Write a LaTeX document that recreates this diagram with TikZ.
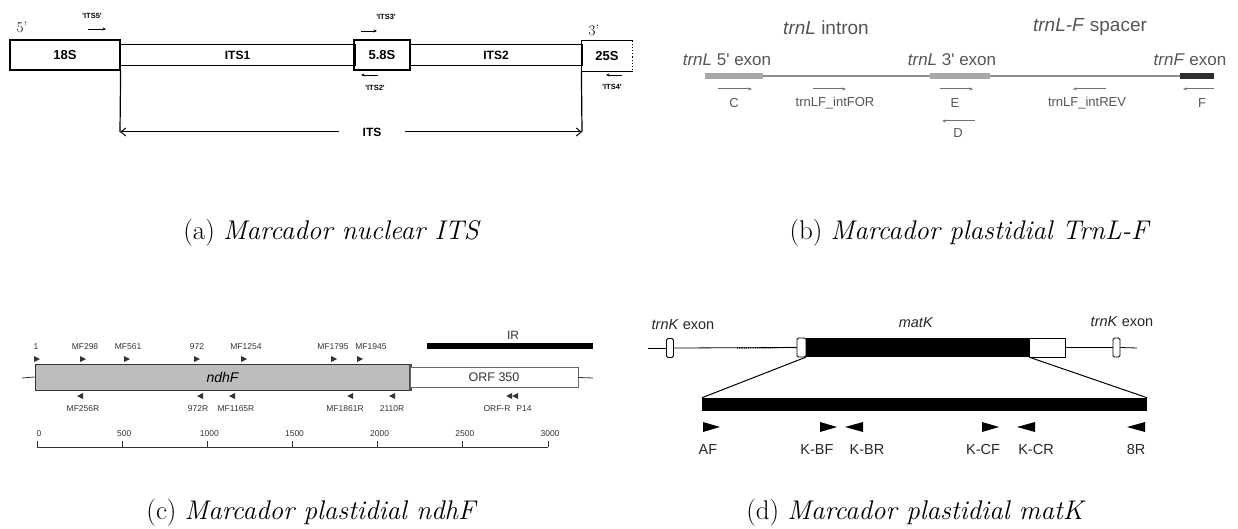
\documentclass[tikz,border=0pt]{standalone}
\usepackage{fontspec}
\newfontfamily\arialf{Liberation Sans}
\usetikzlibrary{positioning,arrows.meta,calc}

\definecolor{txtgray}{HTML}{555555}
\definecolor{linegray}{HTML}{8C8C8C}
\definecolor{exongray}{HTML}{A8A8A8}
\definecolor{exondark}{HTML}{2E2E2E}
\definecolor{boxgray}{HTML}{BDBDBD}
\definecolor{tdark}{HTML}{333333}

\begin{document}
\begin{tikzpicture}[
    x=1pt, y=-1pt,
    gene/.style={draw, line width=1.2pt, minimum height=30pt, inner sep=0pt, font=\arialf\bfseries\fontsize{13}{15}\selectfont},
    spacer/.style={draw, line width=0.9pt, minimum height=21pt, inner sep=0pt, font=\arialf\bfseries\fontsize{12}{14}\selectfont},
    endlab/.style={font=\fontsize{15}{17}\selectfont, inner sep=0pt},
    itslab/.style={font=\arialf\bfseries\fontsize{7.5}{9}\selectfont, inner sep=0pt},
    itsarr/.style={-{Stealth[length=3.5pt,width=3pt]}, line width=0.8pt},
    dimarr/.style={-{Straight Barb[length=5pt,width=8pt]}, line width=1pt},
    bhead/.style={font=\arialf\fontsize{19}{22}\selectfont, text=txtgray, inner sep=0pt},
    exlab/.style={font=\arialf\fontsize{17}{20}\selectfont, text=txtgray, inner sep=0pt},
    exon/.style={fill=exongray, minimum height=6pt, inner sep=0pt},
    plab/.style={font=\arialf\fontsize{13}{15}\selectfont, text=txtgray, inner sep=0pt},
    parr/.style={-{Stealth[length=4pt,width=3pt]}, line width=1pt, draw=linegray!80!black},
    clab/.style={font=\arialf\fontsize{8.5}{10}\selectfont, text=tdark, inner sep=0pt},
    dlab/.style={font=\arialf\fontsize{14.5}{17}\selectfont, text=black!85, inner sep=0pt},
    kbox/.style={fill=black, inner sep=0pt},
    wbox/.style={draw, fill=white, line width=0.8pt, inner sep=0pt, minimum height=19pt},
    capt/.style={font=\fontsize{27}{32}\selectfont, inner sep=0pt}
]
\useasboundingbox (0,0) rectangle (1238,529);

% (a) nuclear ITS region
\node[endlab] (e5) at (22,27) {5'};
\node[endlab] (e3) at (594,30) {3'};
\node[gene, minimum width=110pt] (s18) at (65,55) {18S};
\node[spacer, minimum width=235pt] (its1) at (237.5,55) {ITS1};
\node[gene, minimum width=56pt] (s58) at (382,55) {5.8S};
\node[spacer, minimum width=172pt] (its2) at (496,55) {ITS2};
\node[gene, draw=none, minimum width=50pt] (s25) at (607,56) {25S};
\draw[line width=1.2pt] (s25.north east) -- (s25.north west) -- (s25.south west) -- (s25.south east);
\draw[line width=1.2pt, dotted] (s25.north east) -- (s25.south east);

% primers on ITS
\node[itslab] (i5) at (92,16) {'ITS5'};
\draw[itsarr] ([xshift=-4pt,yshift=-13pt]i5.center) -- ++(18,0);
\node[itslab] (i3) at (386,17) {'ITS3'};
\draw[itsarr] ([xshift=-25pt,yshift=-14pt]i3.center) -- ++(16,0);
\node[itslab] (i2) at (375,88) {'ITS2'};
\draw[itsarr] ([xshift=3pt,yshift=13pt]i2.center) -- ++(-17,0);
\node[itslab] (i4) at (612,87) {'ITS4'};
\draw[itsarr] ([xshift=10pt,yshift=12pt]i4.center) -- ++(-16,0);

% ITS span
\coordinate (itsL) at (120,132);
\coordinate (itsR) at (582,132);
\draw[line width=1.2pt] (s18.south east) -- (itsL);
\draw[line width=1.2pt] (s25.south west) -- (itsR);
\node[spacer, draw=none, inner xsep=23pt] (its) at (372,132) {ITS};
\draw[dimarr] (its.west) -- (itsL);
\draw[dimarr] (its.east) -- (itsR);

% (b) trnL-F region
\node[bhead] (hint) at (826,28) {\textit{trnL} intron};
\node[bhead] (hspa) at (1090,27) {\textit{trnL-F} spacer};
\coordinate (b0) at (705,76);
\coordinate (b1) at (1214,76);
\draw[line width=1.5pt, linegray] (b0) -- (b1);
\node[exon, minimum width=58pt] (ex5) at (734,76) {};
\node[exon, minimum width=60pt] (ex3) at (960,76) {};
\node[exon, fill=exondark, minimum width=34pt] (exf) at (1197,76) {};
\node[exlab] (l5) at (727,60) {\textit{trnL} 5' exon};
\node[exlab] (l3) at (952,60) {\textit{trnL} 3' exon};
\node[exlab] (lf) at (1190,60) {\textit{trnF} exon};

% primers on trnL-F
\node[plab] (pC) at (734,103) {C};
\draw[parr] ([xshift=-16pt,yshift=14pt]pC.center) -- ++(34,0);
\node[plab] (pFOR) at (835,103) {trnLF\_intFOR};
\draw[parr] ([xshift=-22pt,yshift=14pt]pFOR.center) -- ++(33,0);
\node[plab] (pE) at (955,103) {E};
\draw[parr] ([xshift=-15pt,yshift=14pt]pE.center) -- ++(33,0);
\node[plab] (pD) at (958,133) {D};
\draw[parr] ([xshift=17pt,yshift=12pt]pD.center) -- ++(-33,0);
\node[plab] (pREV) at (1087,103) {trnLF\_intREV};
\draw[parr] ([xshift=19pt,yshift=14pt]pREV.center) -- ++(-33,0);
\node[plab] (pF) at (1202,103) {F};
\draw[parr] ([xshift=12pt,yshift=14pt]pF.center) -- ++(-31,0);

% (c) ndhF region
\node[draw=tdark, fill=boxgray, line width=1pt, minimum width=375pt, minimum height=26pt, inner sep=0pt,
      font=\arialf\itshape\fontsize{14}{16}\selectfont] (ndh) at (222.5,377) {ndhF};
\draw[line width=2.5pt, black!70] (ndh.north east) -- (ndh.south east);
\node[draw=black!60, fill=white, line width=0.9pt, minimum width=168pt, minimum height=20pt, inner sep=0pt,
      font=\arialf\fontsize{12.5}{15}\selectfont, text=tdark] (orf) at (494,377.5) {ORF 350};
\coordinate (c0) at (22,378);
\coordinate (c1) at (593,378);
\draw[line width=0.8pt, tdark] (c0) -- (ndh.west);
\draw[line width=0.8pt, tdark] (orf.east) -- (c1);
\coordinate (ir0) at (427,346);
\coordinate (ir1) at (593,346);
\draw[line width=6pt] (ir0) -- (ir1);
\node[clab, font=\arialf\fontsize{12}{14}\selectfont] (irl) at (513,335) {IR};

% forward primers
\foreach \x/\t in {36/1, 85/MF298, 128/MF561, 197/972, 246/MF1254, 333/MF1795, 371/MF1945}
  \node[clab] (ct\x) at (\x,347) {\t};
\foreach \x in {37,83,127,197,244,334,360}
  \fill[tdark] ({\x-3},356) -- ({\x+3},359) -- ({\x-3},362) -- cycle;
% reverse primers
\foreach \x/\t in {83/MF256R, 198/972R, 236/MF1165R, 345/MF1861R, 392/2110R, 497/ORF-R, 524/P14}
  \node[clab] (cb\x) at (\x,409) {\t};
\foreach \x in {80,200,232,350,392,509,515}
  \fill[tdark] ({\x+3},393) -- ({\x-3},396) -- ({\x+3},399) -- cycle;

% scale
\coordinate (ax0) at (37,447);
\coordinate (ax1) at (548,447);
\draw[line width=0.8pt, tdark] (ax0) -- (ax1);
\foreach \v [evaluate=\v as \xx using 37+0.17033*\v] in {0,500,...,3000} {
  \draw[line width=0.8pt, tdark] (\xx,447) -- ++(0,-6);
  \node[clab] (sc\v) at (\xx+2,434) {\v};
}

% (d) matK region
\node[dlab] (tkl) at (683,325) {\textit{trnK} exon};
\node[dlab] (tkr) at (1122,322) {\textit{trnK} exon};
\node[dlab] (mkl) at (916,323) {\textit{matK}};
\coordinate (d0) at (648,348);
\coordinate (d1) at (1137,348);
\node[wbox, rounded corners=1.5pt, minimum width=7pt] (xl) at (670,348) {};
\node[wbox, rounded corners=1.5pt, minimum width=9pt] (w1) at (801.5,347.5) {};
\node[kbox, minimum width=223pt, minimum height=19pt] (mk) at (917.5,347.5) {};
\node[wbox, minimum width=36pt] (w2) at (1047,347.5) {};
\node[wbox, rounded corners=1.5pt, minimum width=7pt] (xr) at (1116.5,347.5) {};
\draw[line width=0.8pt] (d0) -- (xl.west);
\draw[line width=0.8pt] (xl.east) -- (w1.west);
\draw[line width=1.2pt, densely dotted] (737,348) -- (w1.west);
\draw[line width=0.8pt] (w2.east) -- (xr.west);
\draw[line width=0.8pt] (xr.east) -- (d1);
\node[kbox, minimum width=445pt, minimum height=13pt] (kbar) at (924.5,404.5) {};
\draw[line width=1pt] (mk.south west) -- (kbar.north west);
\draw[line width=1pt] (mk.south east) -- (kbar.north east);

% primers on matK
\foreach \x in {703,820,982}
  \fill ({\x},422) -- ({\x+17},427) -- ({\x},432) -- cycle;
\foreach \x in {863,1035,1145}
  \fill ({\x},422) -- ({\x-18},427) -- ({\x},432) -- cycle;
\foreach \x/\t in {708/AF, 817/K-BF, 867/K-BR, 983/K-CF, 1036/K-CR, 1136/8R}
  \node[dlab] (dl\x) at (\x,450) {\t};

% captions
\node[capt] (ca) at (332,233) {(a) \textit{Marcador nuclear ITS}};
\node[capt] (cb) at (970,233) {(b) \textit{Marcador plastidial TrnL-F}};
\node[capt] (cc) at (312,513) {(c) \textit{Marcador plastidial ndhF}};
\node[capt] (cd) at (916,513) {(d) \textit{Marcador plastidial matK}};

\end{tikzpicture}
\end{document}
